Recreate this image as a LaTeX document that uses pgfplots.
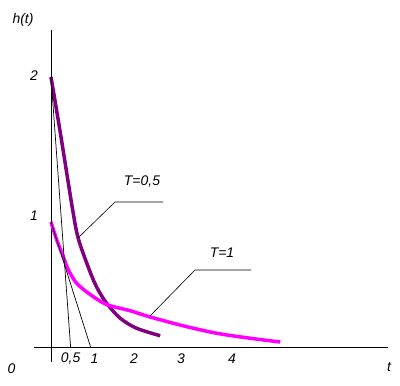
\documentclass[border=0pt]{standalone}
\usepackage{fontspec}
\setmainfont{Liberation Sans}
\usepackage{pgfplots}
\pgfplotsset{compat=1.18}
\definecolor{tpurple}{RGB}{128,0,128}
\definecolor{tmag}{RGB}{255,0,255}
\begin{document}
\begin{tikzpicture}
\begin{axis}[
 x=40bp, y=125bp,
 xmin=-0.425, xmax=8.425, ymin=-0.12, ymax=2.536,
 axis lines=middle, axis line style={-, black, line width=0.8bp},
 clip=false,
 xtick={0.49,1.09,2.075,3.25,4.525}, xticklabels={{0,5},1,2,3,4},
 ytick={1.05,2.17}, yticklabels={1,2},
 major tick length=0pt,
 /pgf/number format/assume math mode=true,
 ticklabel style={font=\fontsize{14}{16}\selectfont\itshape, inner sep=0pt},
 xticklabel style={anchor=center, yshift=-12bp},
 yticklabel style={anchor=center, xshift=-17bp},
]
% T = 0,5
\addplot[tpurple, line width=3.5bp, smooth, tension=0.5] coordinates {
 (0,2.16) (0.25,1.68) (0.54,1.10) (0.68,0.87) (0.93,0.64) (1.14,0.48)
 (1.39,0.35) (1.73,0.23) (2.14,0.15) (2.73,0.09)
};
% T = 1
\addplot[tmag, line width=3.5bp, smooth, tension=0.5] coordinates {
 (0,1.00) (0.14,0.86) (0.31,0.72) (0.43,0.62) (0.64,0.51) (0.98,0.42)
 (1.39,0.34) (1.98,0.29) (2.48,0.24) (3.30,0.17) (4.14,0.11) (4.98,0.07) (5.73,0.04)
};
% tangents
\addplot[black, line width=0.7bp] coordinates {(0,2.16) (0.49,0)};
\addplot[black, line width=0.7bp] coordinates {(0,1.00) (0.99,0)};
% leader lines
\addplot[black, line width=0.6bp] coordinates {(0.675,0.872) (1.6,1.16) (2.8,1.16)};
\addplot[black, line width=0.6bp] coordinates {(2.475,0.248) (3.6,0.616) (5.0,0.616)};
\node[font=\fontsize{14}{16}\selectfont\itshape] at (axis cs:2.275,1.32) {T=0,5};
\node[font=\fontsize{14}{16}\selectfont\itshape] at (axis cs:4.275,0.752) {T=1};
\node[font=\fontsize{14}{16}\selectfont\itshape] at (axis cs:-0.7,2.616) {h(t)};
\node[font=\fontsize{14}{16}\selectfont\itshape] at (axis cs:-0.99,-0.17) {0};
\node[font=\fontsize{14}{16}\selectfont\itshape] at (axis cs:8.45,-0.16) {t};
\path (axis cs:-1.275,-0.312) rectangle (axis cs:8.725,2.776);
\end{axis}
\end{tikzpicture}
\end{document}
